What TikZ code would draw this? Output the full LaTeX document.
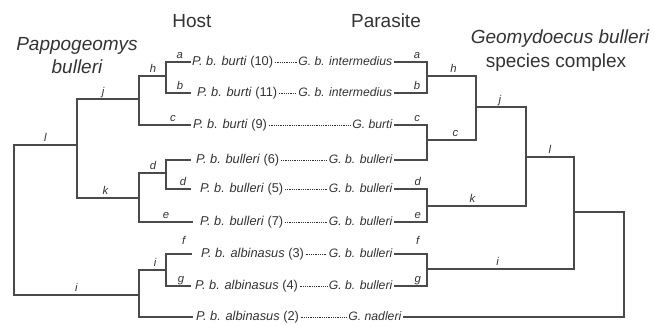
\documentclass[tikz,border=0pt]{standalone}
\usepackage{fontspec}
\setmainfont{Liberation Sans}
\definecolor{ink}{HTML}{333333}
\definecolor{branch}{HTML}{4A4A4A}
\begin{document}
\begin{tikzpicture}[x=1pt,y=-1pt,
  tree/.style={draw=branch, line width=1.1pt},
  dotline/.style={draw=ink, line width=0.7pt, dash pattern=on 0.7pt off 1.1pt},
  leaf/.style={text=ink, inner xsep=1.5pt, inner ysep=0pt, text height=1.5ex, text depth=.25ex},
  hleaf/.style={leaf, font=\fontsize{12.8}{14}\selectfont, anchor=west},
  pleaf/.style={leaf, font=\fontsize{12.2}{14}\selectfont, anchor=east},
  lab/.style={text=ink, font=\fontsize{11.3}{12}\selectfont\itshape, anchor=base, inner sep=0pt, yshift=4pt},
  head/.style={text=ink, font=\fontsize{19}{22}\selectfont, anchor=base, inner sep=0pt}]
\useasboundingbox (0,0) rectangle (670,325);

% column headings
\node[head] (hostT) at (192,27) {Host};
\node[head] (parT) at (386,27) {Parasite};
\node[head] (pappoA) at (77,50) {\itshape Pappogeomys};
\node[head] (pappoB) at (77,73) {\itshape bulleri};
\node[head] (geoA) at (560,43) {\itshape Geomydoecus bulleri};
\node[head] (geoB) at (556,67) {species complex};

% host taxa
\node[hleaf] (L10) at (190.5,62)  {\itshape P. b. burti\/ \upshape(10)};
\node[hleaf] (L11) at (195.5,93)  {\itshape P. b. burti\/ \upshape(11)};
\node[hleaf] (L9)  at (191.5,125) {\itshape P. b. burti\/ \upshape(9)};
\node[hleaf] (L6)  at (194.5,160) {\itshape P. b. bulleri\/ \upshape(6)};
\node[hleaf] (L5)  at (198.5,189) {\itshape P. b. bulleri\/ \upshape(5)};
\node[hleaf] (L7)  at (198.5,222) {\itshape P. b. bulleri\/ \upshape(7)};
\node[hleaf] (L3)  at (199.5,254) {\itshape P. b. albinasus\/ \upshape(3)};
\node[hleaf] (L4)  at (193.5,286) {\itshape P. b. albinasus\/ \upshape(4)};
\node[hleaf] (L2)  at (194.5,317) {\itshape P. b. albinasus\/ \upshape(2)};

% parasite taxa
\node[pleaf] (P10) at (394,62)  {\itshape G. b. intermedius};
\node[pleaf] (P11) at (394,93)  {\itshape G. b. intermedius};
\node[pleaf] (P9)  at (394,125) {\itshape G. burti};
\node[pleaf] (P6)  at (394,160) {\itshape G. b. bulleri};
\node[pleaf] (P5)  at (394,189) {\itshape G. b. bulleri};
\node[pleaf] (P7)  at (394,222) {\itshape G. b. bulleri};
\node[pleaf] (P3)  at (394,254) {\itshape G. b. bulleri};
\node[pleaf] (P4)  at (394,286) {\itshape G. b. bulleri};
\node[pleaf] (P2)  at (403,317) {\itshape G. nadleri};

% host-parasite associations
\foreach \k in {10,11,9,6,5,7,3,4,2}
  \draw[dotline] (L\k.east) -- (P\k.west);

% host tree
\coordinate (hroot) at (14,220);
\coordinate (hjk) at (77,145);
\coordinate (hi)  at (139,295);
\coordinate (hhc) at (139,99);
\coordinate (hk)  at (139,198);
\coordinate (hab) at (166,76);
\coordinate (hd)  at (166,173);
\coordinate (hfg) at (166,270);

\draw[tree] (hroot) |- node[lab,pos=.75] (hl1) {l} (hjk);
\draw[tree] (hroot) |- node[lab,pos=.75] (hl2) {i} (hi);
\draw[tree] (hjk) |- node[lab,pos=.71] (hl3) {j} (hhc);
\draw[tree] (hjk) |- node[lab,pos=.73] (hl4) {k} (hk);
\draw[tree] (hhc) |- node[lab,pos=.76] (hl5) {h} (hab);
\draw[tree] (hhc) |- node[lab,pos=.83] (hl6) {c} ([xshift=-1pt]L9.west);
\draw[tree] (hab) |- node[lab,pos=.78] (hl7) {a} (L10.west);
\draw[tree] (hab) |- node[lab,pos=.78] (hl8) {b} ([xshift=-4.5pt]L11.west);
\draw[tree] (hk) |- node[lab,pos=.76] (hl9) {d} (hd);
\draw[tree] (hk) |- node[lab,pos=.75] (hl10) {e} ([xshift=-5.5pt]L7.west);
\draw[tree] (hd) |- ([xshift=-4pt]L6.west);
\draw[tree] (hd) |- node[lab,pos=.84] (hl11) {d} ([xshift=-7.5pt]L5.west);
\draw[tree] (hi) |- node[lab,pos=.80] (hl12) {i} (hfg);
\draw[tree] (hi) |- ([xshift=-1.5pt]L2.west);
\draw[tree] (hfg) |- node[lab,pos=.84,yshift=6pt] (hl13) {f} ([xshift=-7.5pt]L3.west);
\draw[tree] (hfg) |- node[lab,pos=.80] (hl14) {g} ([xshift=-2.5pt]L4.west);

% parasite tree
\coordinate (pab)   at (427,76);
\coordinate (pc6)   at (427,140);
\coordinate (pde)   at (427,206);
\coordinate (pfg)   at (427,269);
\coordinate (phc)   at (476,107);
\coordinate (pjk)   at (526,157);
\coordinate (pli)   at (574,212);
\coordinate (proot) at (624,265);

\draw[tree] (pab) |- node[lab,pos=.65] (pl1) {a} (P10.east);
\draw[tree] (pab) |- node[lab,pos=.65] (pl2) {b} (P11.east);
\draw[tree] (pc6) |- node[lab,pos=.65] (pl3) {c} (P9.east);
\draw[tree] (pc6) |- (P6.east);
\draw[tree] (pde) |- node[lab,pos=.64] (pl4) {d} (P5.east);
\draw[tree] (pde) |- node[lab,pos=.64] (pl5) {e} (P7.east);
\draw[tree] (pfg) |- node[lab,pos=.64,yshift=6pt] (pl6) {f} (P3.east);
\draw[tree] (pfg) |- node[lab,pos=.64] (pl7) {g} (P4.east);
\draw[tree] (phc) |- node[lab,pos=.73] (pl8) {h} (pab);
\draw[tree] (phc) |- node[lab,pos=.71] (pl9) {c} (pc6);
\draw[tree] (pjk) |- node[lab,pos=.76] (pl10) {j} (phc);
\draw[tree] (pjk) |- node[lab,pos=.77] (pl11) {k} (pde);
\draw[tree] (pli) |- node[lab,pos=.75] (pl12) {l} (pjk);
\draw[tree] (pli) |- node[lab,pos=.76] (pl13) {i} (pfg);
\draw[tree] (proot) |- (pli);
\draw[tree] (proot) |- (P2.east);
\end{tikzpicture}
\end{document}
